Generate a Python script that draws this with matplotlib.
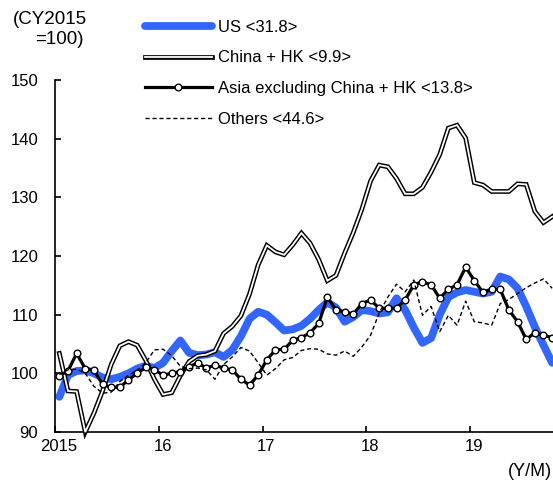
import matplotlib
matplotlib.use('Agg')
import matplotlib.pyplot as plt
from matplotlib.lines import Line2D
from matplotlib.transforms import ScaledTranslation
import numpy as np

plt.rcParams['font.family'] = ['Liberation Sans', 'DejaVu Sans']

# Monthly data, Jan 2015 - Oct 2019 (CY2015 = 100)
us = [96.0, 99.7, 100.4, 100.5, 100.0, 99.3, 99.0, 99.4, 100.0, 100.8, 101.3, 100.9,
      101.8, 103.8, 105.6, 103.5, 103.1, 103.2, 103.6, 102.8, 104.0, 106.3, 109.3, 110.5,
      110.0, 108.7, 107.3, 107.5, 108.1, 109.3, 110.8, 112.1, 111.2, 108.8, 109.6, 110.8,
      110.6, 110.2, 110.4, 112.8, 110.8, 107.8, 105.2, 106.0, 110.0, 113.0, 113.8, 114.2,
      113.9, 113.6, 113.9, 116.5, 116.0, 114.5, 111.4, 107.9, 104.8, 101.8]

china_hk = [103.4, 97.0, 96.9, 90.0, 93.2, 97.0, 101.5, 104.7, 105.4, 104.8, 102.2, 99.0,
            96.4, 96.7, 99.6, 102.0, 103.0, 103.2, 103.8, 106.8, 108.0, 109.8, 113.5, 118.5,
            121.8, 120.7, 120.2, 121.9, 123.9, 122.2, 119.4, 115.8, 116.7, 120.5, 124.0, 128.0,
            132.8, 135.5, 135.2, 133.2, 130.6, 130.6, 131.7, 134.3, 137.3, 141.8, 142.3, 140.1,
            132.5, 132.1, 131.0, 131.0, 131.0, 132.3, 132.2, 127.6, 125.7, 126.7]

asia_ex = [99.6, 100.4, 103.4, 100.8, 100.6, 98.1, 97.6, 97.6, 98.9, 100.0, 101.0, 100.6,
           99.7, 100.0, 100.3, 101.1, 101.8, 100.9, 101.4, 100.9, 100.6, 99.0, 98.0, 99.7,
           102.3, 104.0, 104.1, 105.6, 106.1, 106.9, 108.5, 113.0, 110.8, 110.5, 110.1, 111.9,
           112.5, 111.1, 111.1, 111.1, 112.5, 115.1, 115.6, 115.1, 112.8, 114.3, 115.1, 118.1,
           115.8, 113.8, 114.3, 114.3, 110.8, 108.8, 105.8, 106.9, 106.5, 106.1]

others = [99.8, 100.6, 100.7, 100.0, 97.8, 96.6, 96.8, 98.6, 99.7, 100.5, 101.8, 104.0,
          104.1, 103.0, 101.2, 100.8, 100.9, 100.6, 99.0, 101.5, 102.8, 104.4, 103.8, 101.8,
          99.7, 100.8, 102.3, 102.7, 103.9, 104.2, 104.1, 103.3, 103.1, 103.8, 102.9, 104.5,
          106.5, 110.3, 113.0, 115.2, 113.9, 115.9, 109.9, 111.4, 107.1, 109.9, 108.2, 112.3,
          108.8, 108.6, 108.2, 111.9, 112.6, 113.6, 114.6, 115.4, 116.1, 114.5]

labels = ["US <31.8>", "China + HK <9.9>", "Asia excluding China + HK <13.8>", "Others <44.6>"]
year_labels = ["2015", "16", "17", "18", "19"]
y_ticks = [90, 100, 110, 120, 130, 140, 150]

x = np.arange(len(us)) + 0.5  # mid-month positions, months since Jan 2015

W, H = 553, 482
fig = plt.figure(figsize=(W / 100, H / 100), dpi=100)
left, right, top, bottom = 55, 553, 80, 432
ax = fig.add_axes([left / W, 1 - bottom / H, (right - left) / W, (bottom - top) / H])

blue = '#3366ff'
ax.plot(x, us, color=blue, lw=5.6, solid_capstyle='round', solid_joinstyle='round', zorder=2)
ax.plot(x, china_hk, color='black', lw=3.4, solid_joinstyle='miter', zorder=3, clip_on=False)
ax.plot(x, china_hk, color='white', lw=1.3, solid_joinstyle='miter', zorder=3.1, clip_on=False)
ax.plot(x, asia_ex, color='black', lw=2.3, marker='o', ms=4.8, mfc='white', mec='black',
        mew=1.0, zorder=4)
ax.plot(x, others, color='black', lw=1.0, ls=(0, (3, 2)), zorder=5)

ax.set_xlim(0, 57.6)
ax.set_ylim(90, 150)
ax.set_xticks(np.arange(len(year_labels)) * 12)
ax.set_xticklabels(year_labels)
ax.set_yticks(y_ticks)
ax.set_yticklabels([str(v) for v in y_ticks])
for s in ['top', 'right']:
    ax.spines[s].set_visible(False)
for s in ['left', 'bottom']:
    ax.spines[s].set_linewidth(1.2)
ax.tick_params(axis='both', direction='in', length=4, width=1.2, labelsize=12)
ax.tick_params(axis='y', pad=12)
ax.tick_params(axis='x', pad=5)
for lab in ax.get_xticklabels():
    lab.set_transform(lab.get_transform() + ScaledTranslation(0.04, 0, fig.dpi_scale_trans))

fig.text(13 / W, 1 - 19 / H, "(CY2015", fontsize=13.5, ha='left', va='center')
fig.text(35 / W, 1 - 40 / H, "=100)", fontsize=13.5, ha='left', va='center')
fig.text(508 / W, 1 - 472 / H, "(Y/M)", fontsize=13, ha='left', va='center')

h_us = Line2D([], [], color=blue, lw=5.6, solid_capstyle='round')
h_cn = (Line2D([], [], color='black', lw=3.4), Line2D([], [], color='white', lw=1.3))
h_as = Line2D([], [], color='black', lw=2.3, marker='o', ms=4.8, mfc='white', mec='black', mew=1.0)
h_ot = Line2D([], [], color='black', lw=1.0, ls=(0, (3, 2)))
fig.legend([h_us, h_cn, h_as, h_ot], labels, loc='upper left',
           bbox_to_anchor=(145 / W, 1 - 20 / H), frameon=False, fontsize=12,
           handlelength=4.0, handletextpad=0.35, labelspacing=0.93,
           borderpad=0, borderaxespad=0, numpoints=1)

fig.savefig('out.png', dpi=100)
